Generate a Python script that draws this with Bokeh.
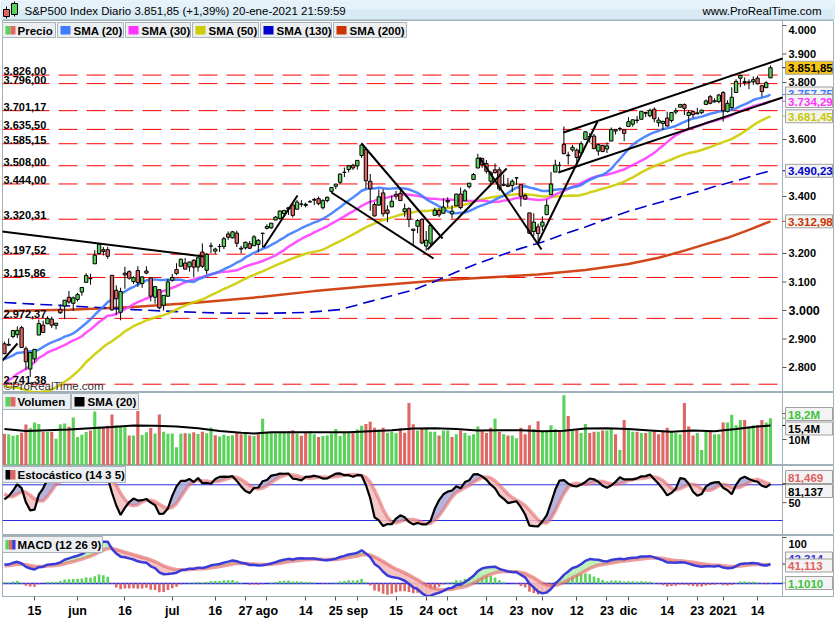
import numpy as np
import pandas as pd
from bokeh.plotting import figure
from bokeh.layouts import column
from bokeh.models import Range1d, FixedTicker, Label, ColumnDataSource
from bokeh.embed import file_html
from bokeh.resources import INLINE
from bokeh.core.properties import value

FONT = "Liberation Sans"

# ---------------- trading calendar ----------------
holidays = ["2020-05-25", "2020-07-03", "2020-09-07", "2020-11-26",
            "2020-12-25", "2021-01-01", "2021-01-18"]
dates = pd.bdate_range("2020-05-06", "2021-01-20", freq="C", holidays=holidays)

# ---------------- S&P500 daily OHLC ----------------
opens = [
    2883.14, 2878.26, 2908.83, 2915.46, 2939.50, 2865.86, 2794.54, 2829.95, 2913.86, 2948.59, 2953.63, 2969.95, 2948.05, 3004.08, 3015.65, 3046.61, 3025.17,
    3038.78, 3064.78, 3098.90, 3111.56, 3163.84, 3199.92, 3213.32, 3213.42, 3123.53, 3071.04, 2993.76, 3131.00, 3136.13, 3101.64, 3140.29, 3094.42, 3138.70, 3114.40, 3046.60, 3073.20, 3018.59, 3050.20,
    3105.92, 3143.64, 3155.29, 3166.44, 3153.07, 3176.17, 3152.47, 3205.08, 3141.11, 3225.98, 3208.36, 3224.21, 3224.29, 3268.52, 3254.86, 3271.64, 3218.58, 3219.84, 3234.27, 3227.22, 3231.76, 3270.45,
    3288.26, 3289.92, 3317.37, 3323.17, 3340.05, 3356.04, 3370.34, 3355.46, 3372.95, 3368.66, 3380.86, 3387.04, 3392.51, 3360.48, 3386.01, 3418.09, 3435.95, 3449.97, 3485.14, 3494.69, 3509.73,
    3507.44, 3543.76, 3564.74, 3453.60, 3371.88, 3369.82, 3412.56, 3352.70, 3363.56, 3407.73, 3411.23, 3346.86, 3357.38, 3285.57, 3295.75, 3320.11, 3226.14, 3236.66, 3333.90, 3350.92, 3341.21,
    3385.87, 3338.94, 3367.27, 3408.74, 3384.56, 3434.28, 3459.67, 3500.02, 3534.01, 3515.47, 3453.72, 3493.50, 3493.66, 3439.38, 3439.91, 3438.50, 3464.90, 3441.42, 3403.15, 3342.48, 3277.17, 3293.59,
    3296.20, 3336.25, 3406.46, 3485.74, 3508.34, 3583.04, 3543.26, 3563.22, 3562.67, 3552.57, 3600.16, 3610.31, 3612.09, 3559.41, 3579.31, 3566.82, 3594.52, 3635.50, 3638.55, 3634.18,
    3645.87, 3653.78, 3668.28, 3670.94, 3694.73, 3683.05, 3705.98, 3659.13, 3656.08, 3675.27, 3666.41, 3696.25, 3713.65, 3722.39, 3684.28, 3698.08, 3693.42, 3694.03, 3723.03, 3750.01, 3736.19, 3733.27,
    3764.61, 3698.02, 3712.20, 3764.71, 3815.05, 3803.14, 3801.62, 3802.23, 3814.98, 3788.73, 3781.88, 3816.22,
]
highs = [
    2891.11, 2901.92, 2932.16, 2944.25, 2945.82, 2874.14, 2852.80, 2865.01, 2968.09, 2964.21, 2980.29, 2978.50, 2956.76, 3021.72, 3036.25, 3068.67, 3049.17,
    3062.18, 3081.07, 3130.94, 3128.91, 3211.72, 3233.13, 3222.71, 3223.27, 3123.53, 3088.42, 3079.76, 3153.45, 3141.16, 3120.00, 3155.53, 3120.92, 3154.90, 3115.01, 3086.25, 3073.73, 3053.89, 3111.51,
    3128.44, 3165.81, 3182.59, 3184.15, 3171.80, 3179.78, 3186.82, 3235.32, 3200.95, 3238.28, 3220.39, 3233.52, 3258.61, 3277.29, 3279.32, 3279.99, 3227.26, 3241.43, 3243.72, 3264.74, 3250.92, 3272.17,
    3302.73, 3306.84, 3330.77, 3351.03, 3352.54, 3363.29, 3381.01, 3387.89, 3387.24, 3378.51, 3387.59, 3395.06, 3399.54, 3390.80, 3399.96, 3432.09, 3444.21, 3481.07, 3501.38, 3509.23, 3514.77,
    3528.03, 3588.11, 3564.85, 3479.15, 3379.97, 3424.77, 3425.55, 3368.95, 3402.93, 3419.48, 3428.92, 3375.17, 3362.27, 3285.57, 3320.31, 3323.35, 3278.70, 3306.88, 3360.74, 3357.92, 3393.56,
    3397.18, 3369.10, 3409.57, 3431.56, 3426.26, 3447.28, 3482.34, 3549.85, 3534.01, 3527.94, 3489.08, 3515.76, 3502.42, 3476.93, 3464.86, 3460.53, 3466.46, 3441.42, 3409.51, 3342.48, 3341.05, 3304.93,
    3330.14, 3389.49, 3486.25, 3529.05, 3521.58, 3645.99, 3557.22, 3581.16, 3569.02, 3593.66, 3628.51, 3623.11, 3619.09, 3585.22, 3581.23, 3589.81, 3642.31, 3635.50, 3644.31, 3634.18,
    3678.45, 3670.96, 3682.73, 3699.20, 3697.41, 3708.45, 3712.39, 3678.49, 3665.91, 3697.61, 3695.29, 3711.27, 3725.12, 3726.70, 3702.90, 3698.26, 3711.24, 3703.82, 3740.51, 3756.12, 3744.63, 3760.20,
    3769.99, 3737.83, 3783.04, 3811.55, 3826.69, 3817.86, 3810.78, 3820.96, 3823.60, 3788.73, 3804.53, 3859.75,
]
lows = [
    2847.65, 2876.48, 2902.88, 2903.44, 2869.59, 2793.15, 2766.64, 2816.78, 2913.86, 2922.35, 2953.63, 2938.57, 2933.59, 2988.17, 2969.75, 3023.40, 2998.61,
    3031.54, 3051.64, 3098.90, 3090.41, 3163.84, 3196.00, 3193.11, 3181.49, 2999.49, 2984.47, 2965.66, 3076.06, 3108.03, 3093.51, 3083.11, 3079.39, 3127.12, 3032.13, 3024.01, 3004.63, 2999.74, 3047.83,
    3101.17, 3124.52, 3155.29, 3142.93, 3136.53, 3115.70, 3136.22, 3149.43, 3127.66, 3200.76, 3198.59, 3205.65, 3215.16, 3247.77, 3253.10, 3222.66, 3200.05, 3214.25, 3216.17, 3227.22, 3204.13, 3220.26,
    3284.53, 3286.37, 3317.37, 3318.14, 3328.72, 3335.44, 3326.44, 3355.46, 3363.35, 3361.64, 3379.22, 3370.15, 3369.66, 3354.69, 3379.31, 3413.13, 3425.84, 3444.15, 3468.35, 3484.32, 3493.25,
    3494.60, 3535.23, 3427.41, 3349.63, 3329.27, 3366.84, 3329.25, 3310.47, 3363.56, 3389.25, 3384.45, 3328.82, 3292.40, 3229.10, 3270.95, 3232.57, 3209.45, 3228.44, 3332.91, 3327.54, 3340.47,
    3361.39, 3323.69, 3367.27, 3354.54, 3384.56, 3428.15, 3458.07, 3499.61, 3500.86, 3480.55, 3440.89, 3480.45, 3419.93, 3435.65, 3433.06, 3415.34, 3440.45, 3364.86, 3388.71, 3268.89, 3259.82, 3233.94,
    3279.74, 3336.25, 3405.17, 3485.74, 3484.34, 3547.48, 3511.91, 3557.00, 3518.58, 3552.57, 3600.16, 3588.68, 3567.33, 3543.84, 3556.85, 3552.77, 3594.52, 3617.76, 3629.33, 3594.39,
    3645.87, 3644.84, 3657.17, 3670.94, 3678.88, 3678.83, 3660.54, 3645.18, 3633.40, 3645.84, 3659.62, 3688.57, 3710.87, 3685.84, 3636.48, 3676.16, 3689.28, 3689.32, 3723.03, 3723.31, 3730.21, 3726.88,
    3662.71, 3695.07, 3705.34, 3764.71, 3783.60, 3789.02, 3776.51, 3791.50, 3792.86, 3749.62, 3780.37, 3816.22,
]
closes = [
    2848.42, 2881.19, 2929.80, 2930.32, 2870.12, 2820.00, 2852.50, 2863.70, 2953.91, 2922.94, 2971.61, 2948.51, 2955.45, 2991.77, 3036.13, 3029.73, 3044.31,
    3055.73, 3080.82, 3122.87, 3112.35, 3193.93, 3232.39, 3207.18, 3190.14, 3002.10, 3041.31, 3066.59, 3124.74, 3113.49, 3115.34, 3097.74, 3117.86, 3131.29, 3050.33, 3083.76, 3009.05, 3053.24, 3100.29,
    3115.86, 3130.01, 3179.72, 3145.32, 3169.94, 3152.05, 3185.04, 3155.22, 3197.52, 3226.56, 3215.57, 3224.73, 3251.84, 3257.30, 3276.02, 3235.66, 3215.63, 3239.41, 3218.44, 3258.44, 3246.22, 3271.12,
    3294.61, 3306.51, 3327.77, 3349.16, 3351.28, 3360.47, 3333.69, 3380.35, 3373.43, 3372.85, 3381.99, 3389.78, 3374.85, 3385.51, 3397.16, 3431.28, 3443.62, 3478.73, 3484.55, 3508.01, 3500.31,
    3526.65, 3580.84, 3455.06, 3426.96, 3331.84, 3398.96, 3339.19, 3340.97, 3383.54, 3401.20, 3385.49, 3357.01, 3319.47, 3281.06, 3315.57, 3236.92, 3246.59, 3298.46, 3351.60, 3335.47, 3363.00,
    3380.80, 3348.42, 3408.60, 3360.97, 3419.44, 3446.83, 3477.14, 3534.22, 3511.93, 3488.67, 3483.34, 3483.81, 3426.92, 3443.12, 3435.56, 3453.49, 3465.39, 3400.97, 3390.68, 3271.03, 3310.11, 3269.96,
    3310.24, 3369.16, 3443.44, 3510.45, 3509.44, 3550.50, 3545.53, 3572.66, 3537.01, 3585.15, 3626.91, 3609.53, 3567.79, 3581.87, 3557.54, 3577.59, 3635.41, 3629.65, 3638.35, 3621.63,
    3662.45, 3669.01, 3666.72, 3699.12, 3691.96, 3702.25, 3672.82, 3668.10, 3663.46, 3647.49, 3694.62, 3701.17, 3722.48, 3709.41, 3694.92, 3687.26, 3690.01, 3703.06, 3735.36, 3727.04, 3732.04, 3756.07,
    3700.65, 3726.86, 3748.14, 3803.79, 3824.68, 3799.61, 3801.19, 3809.84, 3795.54, 3768.25, 3798.91, 3851.85,
]

# sessions before the first drawn bar (24 Feb - 5 May 2020), used to warm up the indicators
pre_close = [
    3225.89, 3128.21, 3116.39, 2978.76, 2954.22,
    3090.23, 3003.37, 3130.12, 3023.94, 2972.37, 2746.56, 2882.23, 2741.38, 2480.64, 2711.02, 2386.13,
    2529.19, 2398.10, 2409.39, 2304.92, 2237.40, 2447.33, 2475.56, 2630.07, 2541.47, 2626.65, 2584.59,
    2470.50, 2526.90, 2488.65, 2663.68, 2659.41, 2749.98, 2789.82, 2761.63, 2846.06, 2783.36, 2799.55,
    2874.56, 2823.16, 2736.56, 2799.31, 2797.80, 2836.74, 2878.48, 2863.39, 2939.51, 2912.43,
    2830.71, 2842.74, 2868.44,
]
pre_high = [2756.89, 2760.75, 2818.57, 2782.46, 2851.85, 2801.88, 2806.51, 2879.22, 2868.98, 2785.54,
            2815.10, 2844.24, 2842.71, 2887.72, 2921.40, 2954.86, 2930.91, 2869.09, 2844.24, 2898.23]
pre_low = [2657.67, 2663.30, 2762.36, 2721.17, 2805.10, 2761.54, 2764.32, 2830.88, 2820.43, 2727.10,
           2775.95, 2794.26, 2791.76, 2852.89, 2860.71, 2912.16, 2892.47, 2821.61, 2797.85, 2863.55]

# volume, millions
volume = [
    12.2, 12.0, 11.4, 11.7, 12.6, 15.8, 14.4, 16.5, 16.0, 12.9, 12.9, 12.9, 10.3, 15.9, 16.2, 14.9, 18.5,
    11.0, 11.8, 12.9, 13.5, 20.8, 15.0, 14.6, 15.3, 19.6, 15.5, 14.8, 14.8, 11.5, 11.5, 21.0, 11.7, 12.8, 14.4, 12.3, 19.6, 13.0, 12.2,
    12.3, 7.0, 12.2, 12.4, 12.3, 12.8, 12.1, 13.0, 12.4, 14.6, 11.6, 11.2, 11.8, 11.3, 11.6, 12.9, 12.0, 12.5, 11.5, 11.3, 12.0, 18.0,
    13.0, 12.8, 12.4, 12.5, 12.9, 13.2, 13.6, 12.3, 11.4, 12.6, 13.3, 12.0, 11.0, 11.3, 11.6, 12.3, 14.0, 11.3, 12.7, 13.0, 12.7,
    13.8, 15.3, 16.0, 16.8, 14.5, 13.8, 14.5, 12.6, 13.0, 12.4, 14.3, 12.6, 24.0, 15.9, 13.5, 14.0, 14.5, 13.0, 13.0, 11.5, 13.5,
    13.5, 11.0, 12.0, 13.5, 12.5, 11.5, 12.0, 15.0, 13.5, 12.5, 14.5, 18.0, 13.0, 12.0, 11.5, 11.5, 10.5, 14.5, 12.0, 15.5, 14.0, 17.0,
    13.5, 13.0, 15.5, 14.0, 13.5, 27.0, 19.0, 13.5, 13.5, 12.5, 16.0, 12.5, 13.0, 13.0, 13.5, 13.5, 14.5, 12.0, 6.0, 17.5,
    14.0, 13.0, 13.0, 12.5, 12.5, 13.0, 13.5, 12.0, 13.0, 14.5, 13.0, 12.5, 12.0, 24.0, 15.0, 11.5, 12.5, 6.0, 13.0, 13.5, 12.0, 12.0,
    16.5, 16.5, 19.5, 15.5, 17.5, 17.5, 15.0, 15.5, 15.5, 17.5, 16.5, 18.2,
]
vol_sma_idx = [0, 5, 10, 15, 20, 25, 30, 35, 40, 45, 50, 55, 58, 62, 70, 80, 85, 90, 95, 100,
               105, 110, 115, 120, 125, 130, 135, 140, 145, 150, 155, 160, 165, 170, 175, 178]
vol_sma_val = [14.0, 13.3, 13.6, 13.8, 14.3, 14.8, 15.4, 15.3, 15.0, 14.3, 13.3, 12.6, 12.3, 12.8, 12.8, 12.8, 13.2, 13.6, 14.2, 14.3,
               14.0, 13.5, 13.6, 13.6, 13.2, 13.4, 14.2, 14.3, 14.0, 13.5, 13.0, 13.5, 13.2, 14.0, 15.0, 15.4]

# long moving averages
sma130_idx = [0, 10, 20, 30, 40, 50, 60, 70, 78, 85, 90, 95, 100, 105, 110, 115, 120, 125, 130,
              135, 140, 145, 150, 155, 160, 165, 170, 175, 178]
sma130_val = [3028, 3020, 3012, 3003, 2996, 2991, 2990, 2993, 3003, 3032, 3052, 3072, 3102, 3135, 3165,
              3192, 3218, 3240, 3268, 3293, 3322, 3348, 3370, 3390, 3412, 3435, 3455, 3478, 3490.23]
sma200_idx = [0, 15, 30, 45, 60, 72, 85, 100, 110, 124, 135, 145, 152, 158, 163, 168, 173, 178]
sma200_val = [2998, 3003, 3012, 3028, 3048, 3068, 3086, 3104, 3114, 3126, 3142, 3163, 3185, 3210, 3233,
              3255, 3283, 3312.98]

# horizontal levels
levels = [3826.00, 3796.00, 3701.17, 3635.50, 3585.15, 3508.00, 3444.00, 3320.31,
          3197.52, 3115.86, 2972.37, 2741.38]
level_labels = ["3.826,00", "3.796,00", "3.701,17", "3.635,50", "3.585,15", "3.508,00", "3.444,00",
                "3.320,31", "3.197,52", "3.115,86", "2.972,37", "2.741,38"]

# trend lines: (bar index, price) start/end
trend_x0 = [-0.9, -0.44, 60.2, 83.0, 76.0, 98.3, 110.4, 123.9, 129.9, 128.7]
trend_y0 = [3278, 2824.6, 3221, 3586, 3414, 3214, 3537, 3235, 3624.6, 3484.2]
trend_x1 = [46.3, 3.04, 68.1, 101.8, 99.7, 116.7, 124.8, 137.8, 180.8, 180.8]
trend_y1 = [3189.5, 2884.2, 3403.5, 3252.6, 3182.5, 3498, 3214, 3663, 3884.2, 3747.4]

# price scale
price_ticks = [2800, 2900, 3000, 3100, 3200, 3400, 3600, 3800, 3900, 4000]
price_tick_labels = ["2.800", "2.900", "3.000", "3.100", "3.200", "3.400", "3.600", "3.800", "3.900", "4.000"]

# x axis
tick_dates = ["2020-05-15", "2020-06-01", "2020-06-16", "2020-07-01", "2020-07-16", "2020-07-27",
              "2020-08-03", "2020-08-14", "2020-08-25", "2020-09-01", "2020-09-15", "2020-09-24",
              "2020-10-01", "2020-10-14", "2020-10-23", "2020-11-02", "2020-11-12", "2020-11-23",
              "2020-12-01", "2020-12-14", "2020-12-23", "2021-01-04", "2021-01-14"]
tick_labels = ["15", "jun", "16", "jul", "16", "27", "ago", "14", "25", "sep", "15", "24", "oct",
               "14", "23", "nov", "12", "23", "dic", "14", "23", "2021", "14"]

# ---------------- indicators ----------------
n = len(closes)
n_pre = len(pre_close)
x = np.arange(n)
c_all = pd.Series(pre_close + closes)
sma20 = c_all.rolling(20).mean().to_numpy()[n_pre:]
sma30 = c_all.rolling(30).mean().to_numpy()[n_pre:]
sma50 = c_all.rolling(50).mean().to_numpy()[n_pre:]

hw = pd.Series(pre_high + highs)
lw = pd.Series(pre_low + lows)
cw = pd.Series(pre_close[-len(pre_high):] + closes)
raw = 100 * (cw - lw.rolling(14).min()) / (hw.rolling(14).max() - lw.rolling(14).min())
k_all = raw.rolling(3).mean()
stoch_k = k_all.to_numpy()[len(pre_high):]
stoch_d = k_all.rolling(5).mean().to_numpy()[len(pre_high):]

ema12 = c_all.ewm(span=12, adjust=False).mean()
ema26 = c_all.ewm(span=26, adjust=False).mean()
macd_all = ema12 - ema26
signal_all = macd_all.ewm(span=9, adjust=False).mean()
macd = macd_all.to_numpy()[n_pre:]
signal = signal_all.to_numpy()[n_pre:]
hist = macd - signal

# ---------------- geometry ----------------
W = 835
X0 = -0.44
DX = 181.23 / 780.0          # bar units per pixel
XR = X0 + 831 * DX           # frame spans page pixels 2..833
xr = Range1d(X0, XR)
AX = 782                     # page x of the value scale line
GREEN = "#5ad25a"
RED = "#e06666"
BORDER = "#9fb0b8"


def fx(px):
    return X0 + (px - 2) * DX


class Frame:
    def __init__(self, top, h, y0, y1):
        self.top, self.h, self.y0, self.y1 = top, h, y0, y1

    def y(self, py):
        return self.y1 - (py - self.top) / self.h * (self.y1 - self.y0)

    def py(self, yv):
        return self.top + (self.y1 - yv) / (self.y1 - self.y0) * self.h


def panel(height, fr, bottom=0):
    p = figure(width=W, height=height, x_range=xr, y_range=Range1d(fr.y0, fr.y1),
               toolbar_location=None, output_backend="svg",
               x_axis_location="below" if bottom else None, y_axis_location=None,
               min_border_left=2, min_border_right=2, min_border_top=0, min_border_bottom=bottom)
    p.grid.visible = False
    p.outline_line_color = BORDER
    p.background_fill_color = "white"
    p.border_fill_color = "white"
    # value scale line
    p.segment(x0=[fx(AX)], y0=[fr.y0], x1=[fx(AX)], y1=[fr.y1], line_color=BORDER, line_width=1)
    return p


def txt(p, xv, yv, s, size="11px", color="black", align="left", bold=True):
    p.text(x=[xv], y=[yv], text=[s], text_font=value(FONT), text_font_style="bold" if bold else "normal",
           text_font_size=size, text_baseline="middle", text_align=align, text_color=color)


def hline(p, yv, color, width=1, dash="solid"):
    p.segment(x0=[X0], y0=[yv], x1=[fx(AX)], y1=[yv], line_color=color, line_width=width, line_dash=dash)


def scale_tick(p, fr, yv, label=None, label_py=None, size="11px"):
    p.segment(x0=[fx(AX)], y0=[yv], x1=[fx(AX + 4)], y1=[yv], line_color="#555555", line_width=1)
    if label:
        ly = fr.y(label_py) if label_py is not None else yv
        txt(p, fx(AX + 6), ly, label, size=size)


def legend_box(p, fr, x0, x1, y0, y1, label, swatches, text_dx=15):
    p.quad(left=[fx(x0)], right=[fx(x1)], top=[fr.y(y0)], bottom=[fr.y(y1)],
           fill_color="#eceff1", line_color="#a9b4b9", line_width=1)
    k = len(swatches)
    for i, col in enumerate(swatches):
        p.quad(left=[fx(x0 + 3 + i * 10.0 / k)], right=[fx(x0 + 3 + (i + 1) * 10.0 / k)],
               top=[fr.y(y0 + 3.5)], bottom=[fr.y(y1 - 3)], fill_color=col, line_color=None)
    txt(p, fx(x0 + text_dx), fr.y((y0 + y1) / 2 + 0.5), label, size="11.5px")


def value_box(p, fr, yv, s, color, bg="#f3f3f3", center_py=None):
    cy = center_py if center_py is not None else fr.py(yv)
    p.segment(x0=[fx(AX)], y0=[yv], x1=[fx(AX + 4)], y1=[yv], line_color=color, line_width=1)
    p.quad(left=[fx(785)], right=[fx(832)], top=[fr.y(cy - 6.5)], bottom=[fr.y(cy + 6.5)],
           fill_color=bg, line_color="#a0a0a0", line_width=1)
    txt(p, fx(787.5), fr.y(cy + 0.5), s, size="11.5px", color=color)


# ---------------- header ----------------
head = figure(width=W, height=20, x_range=Range1d(2, 833), y_range=Range1d(20, 0),
              toolbar_location=None, output_backend="svg",
              x_axis_location=None, y_axis_location=None,
              min_border_left=2, min_border_right=2, min_border_top=0, min_border_bottom=0)
head.grid.visible = False
head.outline_line_color = None
head.background_fill_color = "#d8ebf5"
head.border_fill_color = "#d8ebf5"
head.quad(left=[0], right=[W], top=[0], bottom=[9], fill_color="#e5f2f9", line_color=None)
head.quad(left=[0], right=[W], top=[19], bottom=[20], fill_color=BORDER, line_color=None)
head.segment(x0=[6, 14], y0=[6, 1], x1=[6, 14], y1=[18, 16], line_color="black", line_width=1)
head.quad(left=[3, 11], right=[9, 17], top=[9, 3], bottom=[16, 14],
          fill_color=[RED, GREEN], line_color="black", line_width=1)
txt(head, 24, 10.5, "S&P500 Index Diario 3.851,85 (+1,39%) 20-ene-2021 21:59:59", size="11.5px", bold=False)
txt(head, 821, 10.5, "www.ProRealTime.com", size="11.5px", align="right", bold=False)

# ---------------- price panel ----------------
fp = Frame(20, 372, 2712.28, 4017.54)
price = panel(372, fp)

for lv in levels:
    hline(price, lv, "#ff0000", 1, "19 9")

price.line(sma200_idx, sma200_val, line_color="#cc3300", line_width=2.5, line_alpha=0.9)
price.line(sma130_idx, sma130_val, line_color="#0000cc", line_width=1.6, line_dash="12 6")
price.line(x, sma50, line_color="#cccc00", line_width=2.5, line_alpha=0.9)
price.line(x, sma30, line_color="#ff40ff", line_width=2.5, line_alpha=0.9)
price.line(x, sma20, line_color="#3d7bff", line_width=2.5, line_alpha=0.9)

op = np.array(opens)
cl = np.array(closes)
src = ColumnDataSource(dict(
    x=x, high=highs, low=lows,
    top=np.maximum(op, cl), bottom=np.minimum(op, cl),
    color=[GREEN if c >= o else RED for o, c in zip(op, cl)],
))
price.segment(x0="x", y0="high", x1="x", y1="low", source=src, line_color="black", line_width=1)
price.vbar(x="x", top="top", bottom="bottom", width=0.78, fill_color="color",
           line_color="black", line_width=1, source=src)

price.segment(x0=trend_x0, y0=trend_y0, x1=trend_x1, y1=trend_y1,
              line_color="black", line_width=2)

for lv, s in zip(levels, level_labels):
    price.add_layout(Label(x=1, x_units="screen", y=lv, y_offset=4, text=s,
                           text_font=FONT, text_font_style="bold", text_font_size="11px",
                           text_color="black", text_baseline="alphabetic"))
price.add_layout(Label(x=1, x_units="screen", y=1, y_units="screen", text="\u00a9ProRealTime.com",
                       text_font=FONT, text_font_size="11.5px", text_color="#333333",
                       text_baseline="bottom"))

legend_box(price, fp, 2, 55, 22, 37, "Precio", [GREEN, RED])
legend_box(price, fp, 57, 123, 22, 37, "SMA (20)", ["#3d7bff"], 16)
legend_box(price, fp, 125, 190, 22, 37, "SMA (30)", ["#ff33ff"], 16)
legend_box(price, fp, 192, 258, 22, 37, "SMA (50)", ["#cccc00"], 16)
legend_box(price, fp, 260, 331, 22, 37, "SMA (130)", ["#0000cc"], 16)
legend_box(price, fp, 333, 406, 22, 37, "SMA (200)", ["#cc3300"], 16)

for t, s in zip(price_ticks, price_tick_labels):
    scale_tick(price, fp, t, s, label_py=29 if t == 4000 else None,
               size="12.5px" if t == 3000 else "11px")

value_box(price, fp, closes[-1], "3.851,85", "black", bg="#f5c518")
value_box(price, fp, sma20[-1], "3.757,75", "#3d7bff", center_py=93)
value_box(price, fp, sma30[-1], "3.734,29", "#ff33ff", center_py=100.5)
value_box(price, fp, sma50[-1], "3.681,45", "#c8c800")
value_box(price, fp, sma130_val[-1], "3.490,23", "#0000cc")
value_box(price, fp, sma200_val[-1], "3.312,98", "#cc3300")

# ---------------- volume panel ----------------
fv = Frame(392, 73, 0, 73 / 2.6)
vol = panel(73, fv)
prev = [pre_close[-1]] + closes[:-1]
vsrc = ColumnDataSource(dict(x=x, v=volume,
                             color=[GREEN if c >= p0 else RED for c, p0 in zip(closes, prev)]))
vol.vbar(x="x", top="v", bottom=0, width=0.72, fill_color="color", line_color=None, source=vsrc)
vol.line(vol_sma_idx, vol_sma_val, line_color="black", line_width=2)
legend_box(vol, fv, 2, 70, 393, 409, "Volumen", [GREEN, RED])
legend_box(vol, fv, 71, 138, 393, 409, "SMA (20)", ["black"], 16)
scale_tick(vol, fv, 10, "10M")
scale_tick(vol, fv, 20)
value_box(vol, fv, 18.2, "18,2M", "#3cc43c", center_py=413.5)
value_box(vol, fv, 15.4, "15,4M", "black", center_py=428)

# ---------------- stochastic panel ----------------
fs = Frame(465, 70, -5.2, 112.4)
sto = panel(70, fs)
hline(sto, 80, "#2a2ae0")
hline(sto, 20, "#2a2ae0")
sto.varea(x=x, y1=stoch_d, y2=np.maximum(stoch_k, stoch_d), fill_color="#a8a8d8", fill_alpha=0.85)
sto.varea(x=x, y1=np.minimum(stoch_k, stoch_d), y2=stoch_d, fill_color="#f3c0c0", fill_alpha=0.85)
sto.line(x, stoch_d, line_color="#e36a6a", line_width=3.5, line_alpha=0.6)
sto.line(x, stoch_k, line_color="black", line_width=2.2)
legend_box(sto, fs, 2, 125, 466, 482, "Estocástico (14 3 5)", ["black", RED])
scale_tick(sto, fs, 50, "50")
value_box(sto, fs, 81.469, "81,469", "#e06060", center_py=476.5)
value_box(sto, fs, 81.137, "81,137", "black", center_py=490.5)

# ---------------- MACD panel ----------------
fm = Frame(535, 61, -28.3, 104.3)
mac = panel(85, fm, bottom=24)
hline(mac, 0, "#2a2ae0", 1.5)
hsrc = ColumnDataSource(dict(x=x, h=hist, color=[GREEN if h >= 0 else RED for h in hist]))
mac.vbar(x="x", top="h", bottom=0, width=0.6, fill_color="color", line_color=None, source=hsrc)
mac.varea(x=x, y1=signal, y2=np.maximum(macd, signal), fill_color="#b9efb2", fill_alpha=0.9)
mac.varea(x=x, y1=np.minimum(macd, signal), y2=signal, fill_color="#f5bcbc", fill_alpha=0.9)
mac.line(x, signal, line_color="#e36a6a", line_width=3.5, line_alpha=0.65)
mac.line(x, macd, line_color="#3a3ad8", line_width=2.5)
legend_box(mac, fm, 2, 102, 536, 552, "MACD (12 26 9)", [GREEN, RED, "#3a3ad8"])
scale_tick(mac, fm, 100, "100", label_py=543)
value_box(mac, fm, 42.314, "42,314", "#3a3ad8", center_py=558)
value_box(mac, fm, 41.113, "41,113", "#e06060", center_py=565)
value_box(mac, fm, 1.101, "1,1010", "#3cc43c", center_py=582.5)

xax = mac.xaxis[0]
tick_idx = [int(dates.get_loc(pd.Timestamp(d))) for d in tick_dates]
xax.ticker = FixedTicker(ticks=tick_idx)
xax.major_label_overrides = {i: t for i, t in zip(tick_idx, tick_labels)}
xax.minor_tick_line_color = None
xax.major_tick_out = 4
xax.major_tick_in = 0
xax.axis_line_color = BORDER
xax.major_tick_line_color = "#555555"
xax.major_label_text_font = FONT
xax.major_label_text_font_style = "bold"
xax.major_label_text_font_size = "12.5px"
xax.major_label_text_color = "black"
xax.major_label_standoff = 3

layout = column(head, price, vol, sto, mac, spacing=0)
open("out.html", "w").write(file_html(layout, INLINE))
